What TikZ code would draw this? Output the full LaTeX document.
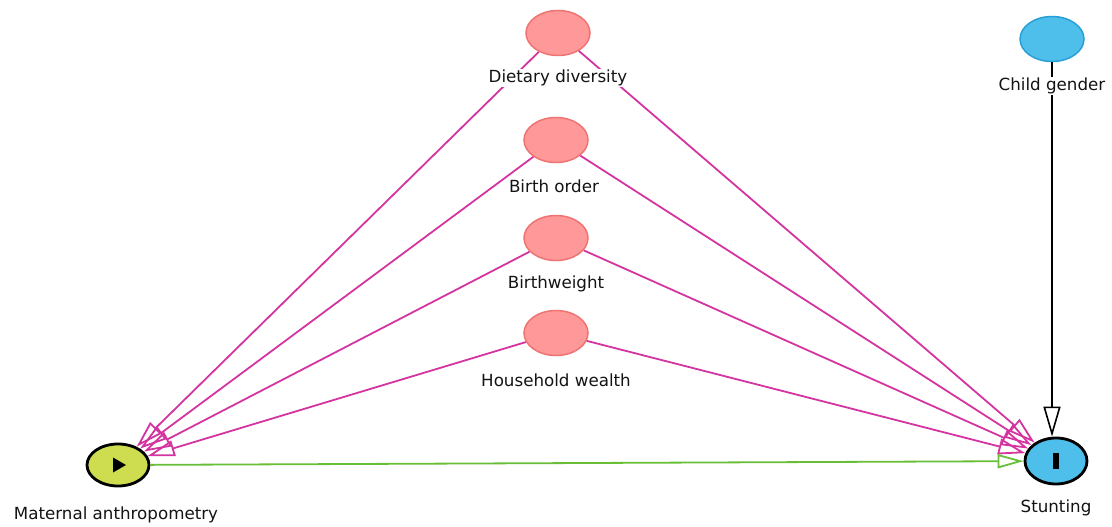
\documentclass[tikz,border=0pt]{standalone}
\usepackage{fontspec}
\setmainfont{DejaVu Sans}
\usetikzlibrary{shapes.geometric,arrows.meta}
\definecolor{pinkfill}{RGB}{255,153,153}
\definecolor{pinkborder}{RGB}{240,115,115}
\definecolor{edgepink}{RGB}{212,52,160}
\definecolor{bluefill}{RGB}{78,190,234}
\definecolor{blueborder}{RGB}{40,160,215}
\definecolor{expfill}{RGB}{206,221,80}
\definecolor{edgegreen}{RGB}{105,190,55}
\definecolor{labeltext}{RGB}{20,20,20}
\tikzset{
  var/.style={ellipse, minimum width=64pt, minimum height=45pt, inner sep=0pt},
  adj/.style={var, fill=pinkfill, draw=pinkborder, line width=1.5pt},
  other/.style={var, fill=bluefill, draw=blueborder, line width=1.5pt},
  expo/.style={var, minimum width=62pt, minimum height=42pt, fill=expfill, draw=black, line width=2.8pt},
  outc/.style={var, minimum width=62pt, minimum height=46pt, fill=bluefill, draw=black, line width=2.8pt},
  lab/.style={fill=white, inner sep=1pt, text=labeltext, font=\fontsize{16.7}{18}\selectfont},
  pinkedge/.style={draw=edgepink, line width=1.8pt, -{Triangle[open, length=27pt, width=16pt]}},
  greenedge/.style={draw=edgegreen, line width=1.8pt, -{Triangle[open, length=26pt, width=14pt]}},
  blackedge/.style={draw=black, line width=1.6pt, -{Triangle[open, length=30pt, width=17pt]}},
}
\begin{document}
\begin{tikzpicture}[x=1pt,y=-1pt]
\useasboundingbox (0,0) rectangle (1112,527);
% variable nodes
\node[adj] (diet) at (558,33) {};
\node[adj] (birthord) at (556,140) {};
\node[adj] (bw) at (556,238) {};
\node[adj] (wealth) at (556,333) {};
\node[other] (gender) at (1052,39) {};
\node[expo] (mat) at (118,465) {};
\node[outc] (stunt) at (1056,461) {};
% icons
\fill[black] ([shift={(-5,-7.5)}]mat.center) -- ([shift={(-5,7.5)}]mat.center) -- ([shift={(8,0)}]mat.center) -- cycle;
\fill[black] ([shift={(-3,-8)}]stunt.center) rectangle ([shift={(3,8)}]stunt.center);
% edges
\draw[pinkedge] (diet) -- (mat);
\draw[pinkedge] (birthord) -- (mat);
\draw[pinkedge] (bw) -- (mat);
\draw[pinkedge] (wealth) -- (mat);
\draw[pinkedge] (diet) -- (stunt);
\draw[pinkedge] (birthord) -- (stunt);
\draw[pinkedge] (bw) -- (stunt);
\draw[pinkedge] (wealth) -- (stunt);
\draw[greenedge] (mat) -- (stunt);
\draw[blackedge] (gender.south) -- (stunt.north -| gender.south);
% labels
\node[lab] (ldiet) at (558,78) {Dietary diversity};
\node[lab] (lbirthord) at (554,186) {Birth order};
\node[lab] (lbw) at (556,284) {Birthweight};
\node[lab] (lwealth) at (556,380) {Household wealth};
\node[lab] (lgender) at (1052,86) {Child gender};
\node[lab] (lmat) at (116,515) {Maternal anthropometry};
\node[lab] (lstunt) at (1056,508) {Stunting};
\end{tikzpicture}
\end{document}
